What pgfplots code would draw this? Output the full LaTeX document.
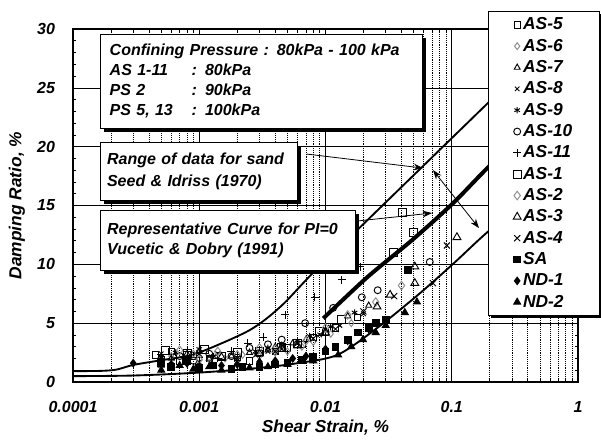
\documentclass[border=0pt]{standalone}
\usepackage{fontspec}
\setmainfont{Liberation Sans}
\usepackage{pgfplots}
\pgfplotsset{compat=1.18}
\usetikzlibrary{shadows,arrows.meta}

% boxes with a black drop shadow, as in the original figure
\tikzset{
  shbox/.style={draw=black, fill=white, line width=0.6pt, anchor=north west,
    align=left, inner xsep=5pt, inner ysep=4pt,
    drop shadow={shadow xshift=2.5pt, shadow yshift=-2.5pt, fill=black, opacity=1}},
}

\begin{document}
\begin{tikzpicture}[font=\bfseries\itshape]
\begin{axis}[
  at={(0,0)}, anchor=south west,
  scale only axis, width=378.75pt, height=264.75pt,
  xmode=log, xmin=1e-4, xmax=1, ymin=0, ymax=30,
  xtick={1e-4,1e-3,1e-2,1e-1,1},
  xticklabels={0.0001,0.001,0.01,0.1,1},
  ytick={0,5,10,15,20,25,30},
  yticklabels={0,5,10,15,20,25,30},
  minor y tick num=4,
  xmajorgrids, ymajorgrids, xminorgrids,
  major grid style={black, line width=0.5pt},
  minor grid style={black, densely dotted, line width=0.4pt},
  tick style={black, line width=0.5pt},
  major tick length=4pt, minor tick length=2.5pt,
  tick align=inside,
  axis line style={line width=1pt},
  ticklabel style={font=\fontsize{12}{14}\selectfont\bfseries\itshape},
  xticklabel style={anchor=center, yshift=-19pt},
  yticklabel style={anchor=east, xshift=-10pt},
  xlabel={Shear Strain, \%},
  ylabel={Damping Ratio, \%},
  label style={font=\fontsize{13}{15}\selectfont\bfseries\itshape},
  xlabel style={at={(axis description cs:0.5,-0.1303)}, anchor=center},
  ylabel style={at={(axis description cs:-0.111,0.5)}, anchor=center},
  every axis plot/.append style={line width=0.7pt},
  legend cell align=left,
  legend image code/.code={\draw[#1] plot coordinates {(0pt,0pt)};},
  legend style={at={(axis description cs:0.8218,1.051)}, anchor=north west,
    draw=black, line width=0.8pt, fill=white,
    font=\fontsize{13}{15}\selectfont\bfseries\itshape,
    inner xsep=18.5pt, inner ysep=3pt, row sep=2pt, column sep=0pt,
    nodes={inner sep=1.5pt, text height=9.2pt, text depth=1.8pt, text width=37.5pt},
    drop shadow={shadow xshift=2pt, shadow yshift=-2pt, fill=black, opacity=1}},
]

% Seed & Idriss (1970) range for sand: upper and lower bounds
\addplot[black, line width=1.4pt, smooth, forget plot] coordinates {
  (0.0001,0.93) (0.00016,0.94) (0.00022,1.05) (0.0003,1.45) (0.0005,1.85)
  (0.0007,2.1) (0.001,2.5) (0.0025,4.4) (0.0044,6.4) (0.008,9.3)
  (0.019,13.2) (0.193,23.7) (0.4,27.0)};
\addplot[black, line width=1.4pt, smooth, forget plot] coordinates {
  (0.0001,0.5) (0.0003,0.55) (0.001,0.8) (0.003,1.2) (0.006,1.6)
  (0.0124,2.3) (0.025,4.5) (0.054,7.4) (0.104,10.1) (0.19,12.7) (0.4,15.5)};
% Vucetic & Dobry (1991), PI=0
\addplot[black, line width=3pt, smooth, forget plot] coordinates {
  (0.0096,5.4) (0.0214,8.9) (0.049,12.1) (0.1025,15.2) (0.201,18.4) (0.4,21.2)};

% test data
\addplot[only marks, black, mark=square, mark size=2.4pt] coordinates {
  (0.00045,2.3) (0.0005,1.9) (0.0006,2.6) (0.0007,1.8) (0.0009,2.2) (0.0012,2.0)
  (0.002,2.1) (0.0025,1.8) (0.003,2.4) (0.004,2.6) (0.005,2.9) (0.0065,3.2)
  (0.008,3.8) (0.01,4.2) (0.012,4.6) (0.018,5.5)};
\addlegendentry{AS-5}
\addplot[only marks, black!45, mark=diamond, mark size=2.6pt] coordinates {
  (0.0005,1.7) (0.0006,2.2) (0.0008,1.6) (0.0009,2.4) (0.0012,1.9) (0.0016,2.0)
  (0.0022,2.3) (0.003,2.2) (0.004,2.5) (0.005,2.6) (0.0065,3.0) (0.008,3.4)
  (0.011,4.1) (0.016,5.0)};
\addlegendentry{AS-6}
\addplot[only marks, black, mark=triangle, mark size=2.6pt] coordinates {
  (0.0005,1.4) (0.0006,2.0) (0.0008,1.7) (0.001,2.6) (0.0012,2.0) (0.0018,2.2)
  (0.0025,2.5) (0.0035,2.7) (0.004,3.0) (0.0055,3.3) (0.007,3.6) (0.01,4.4)
  (0.015,5.6) (0.022,6.5)};
\addlegendentry{AS-7}
\addplot[only marks, black, mark=x, mark size=2.4pt] coordinates {
  (0.0005,2.4) (0.0006,1.5) (0.0008,2.0) (0.001,1.7) (0.0014,2.4) (0.002,2.0)
  (0.0028,2.3) (0.0035,2.6) (0.0045,2.8) (0.006,3.3) (0.009,4.0) (0.013,4.8)
  (0.02,5.8)};
\addlegendentry{AS-8}
\addplot[only marks, black, mark=asterisk, mark size=2.4pt] coordinates {
  (0.0005,1.8) (0.00065,2.5) (0.0008,2.1) (0.001,2.8) (0.0013,2.2) (0.002,1.9)
  (0.0028,2.6) (0.0035,2.9) (0.0045,3.1) (0.006,3.5) (0.0075,3.9) (0.011,4.7)
  (0.017,5.9)};
\addlegendentry{AS-9}
\addplot[only marks, black, mark=o, mark size=2.6pt] coordinates {
  (0.0005,2.0) (0.0007,2.2) (0.0009,1.8) (0.0012,2.4) (0.0018,2.2) (0.0025,2.9)
  (0.0035,3.2) (0.0045,3.6) (0.0069,5.0) (0.0115,6.3) (0.0194,7.2) (0.0259,7.8)
  (0.067,10.2)};
\addlegendentry{AS-10}
\addplot[only marks, black, mark=+, mark size=3pt] coordinates {
  (0.0005,2.3) (0.0006,1.9) (0.0008,2.6) (0.001,2.1) (0.0014,2.0) (0.0018,2.6)
  (0.00243,3.3) (0.0032,3.8) (0.0048,5.7) (0.0082,7.2) (0.0135,8.7) (0.0188,9.8)};
\addlegendentry{AS-11}
\addplot[only marks, black, mark=square, mark size=3pt] coordinates {
  (0.00054,2.7) (0.0008,2.4) (0.0011,2.8) (0.0015,2.2) (0.002,2.5) (0.003,2.6)
  (0.0045,2.9) (0.006,3.3) (0.009,4.3) (0.0135,5.3) (0.0343,11.0) (0.0404,14.4)
  (0.0497,12.7)};
\addlegendentry{AS-1}
\addplot[only marks, black!45, mark=diamond, mark size=3.2pt] coordinates {
  (0.0007,2.7) (0.001,1.9) (0.0014,2.6) (0.002,2.3) (0.003,2.9) (0.004,2.8)
  (0.007,3.5) (0.01,4.6) (0.015,5.7) (0.025,6.8) (0.04,8.2)};
\addlegendentry{AS-2}
\addplot[only marks, black, mark=triangle, mark size=3.4pt] coordinates {
  (0.0008,2.3) (0.0015,2.1) (0.003,2.4) (0.0045,3.0) (0.006,3.1) (0.01,4.2)
  (0.0256,6.4) (0.0325,7.4) (0.051,8.4) (0.051,9.8) (0.11,12.3)};
\addlegendentry{AS-3}
\addplot[only marks, black, mark=x, mark size=3.2pt] coordinates {
  (0.001,2.4) (0.002,2.0) (0.004,2.6) (0.008,3.7) (0.012,4.5) (0.02,6.0)
  (0.035,7.3) (0.071,8.4) (0.0915,11.6)};
\addlegendentry{AS-4}
\addplot[only marks, black, mark=square*, mark size=2.5pt] coordinates {
  (0.0005,1.6) (0.0006,1.3) (0.0008,1.8) (0.001,1.2) (0.0013,1.4) (0.0018,1.1)
  (0.0022,1.3) (0.003,1.3) (0.004,1.5) (0.005,1.6) (0.0065,1.9) (0.008,2.1)
  (0.01,2.6) (0.012,3.0) (0.015,3.6) (0.018,4.2) (0.022,4.6) (0.025,5.0)
  (0.03,5.3) (0.045,9.5)};
\addlegendentry{SA}
\addplot[only marks, black, mark=diamond*, mark size=2.8pt] coordinates {
  (0.0003,1.6) (0.0005,1.9) (0.0006,1.5) (0.0008,1.6) (0.001,1.3) (0.0015,1.4)
  (0.002,1.5) (0.003,1.7) (0.004,1.8) (0.0055,2.0) (0.007,2.2) (0.01,2.8)
  (0.015,3.5) (0.022,4.5) (0.03,5.2)};
\addlegendentry{ND-1}
\addplot[only marks, black, mark=triangle*, mark size=3pt] coordinates {
  (0.0005,1.0) (0.0007,1.4) (0.0009,1.1) (0.0012,1.3) (0.0015,1.0) (0.0025,1.2)
  (0.0035,1.3) (0.005,1.5) (0.008,1.8) (0.0126,2.3) (0.016,3.0) (0.0198,3.6)
  (0.025,4.2) (0.03,4.8) (0.0425,5.9) (0.053,6.8)};
\addlegendentry{ND-2}

% arrows of the annotations
\draw[black, line width=0.6pt, -{Stealth[length=7pt,width=5pt]}]
  (axis cs:0.00714,19.37) -- (axis cs:0.0592,18.18);
\draw[black, line width=0.6pt, {Stealth[length=7pt,width=5pt]}-{Stealth[length=7pt,width=5pt]}]
  (axis cs:0.0710,18.01) -- (axis cs:0.1644,13.08);
\draw[black, line width=0.6pt, -{Stealth[length=7pt,width=5pt]}]
  (axis cs:0.01777,13.68) -- (axis cs:0.0698,14.36);
\end{axis}

% annotation boxes (positions relative to the axis' lower left corner)
\node[shbox, minimum height=70.5pt, inner xsep=7pt, text width=227.5pt,
  font=\fontsize{12}{15}\selectfont\bfseries\itshape] at (20.25pt,261pt)
  {Confining Pressure : 80kPa - 100 kPa\\
   \makebox[61.5pt][l]{AS 1-11}: 80kPa\\
   \makebox[61.5pt][l]{PS 2}: 90kPa\\
   \makebox[61.5pt][l]{PS 5, 13}: 100kPa};
\node[shbox, minimum height=43.5pt, text width=137.75pt,
  font=\fontsize{12}{16.5}\selectfont\bfseries\itshape] at (20.25pt,180pt)
  {Range of data for sand\\ Seed \& Idriss (1970)};
\node[shbox, minimum height=45pt, text width=181.25pt,
  font=\fontsize{12}{15}\selectfont\bfseries\itshape] at (20.25pt,129pt)
  {Representative Curve for PI=0\\ Vucetic \& Dobry (1991)};

\pgfresetboundingbox
\path[use as bounding box] (-54.75pt,-46.5pt) rectangle (396pt,286.5pt);
\end{tikzpicture}
\end{document}
